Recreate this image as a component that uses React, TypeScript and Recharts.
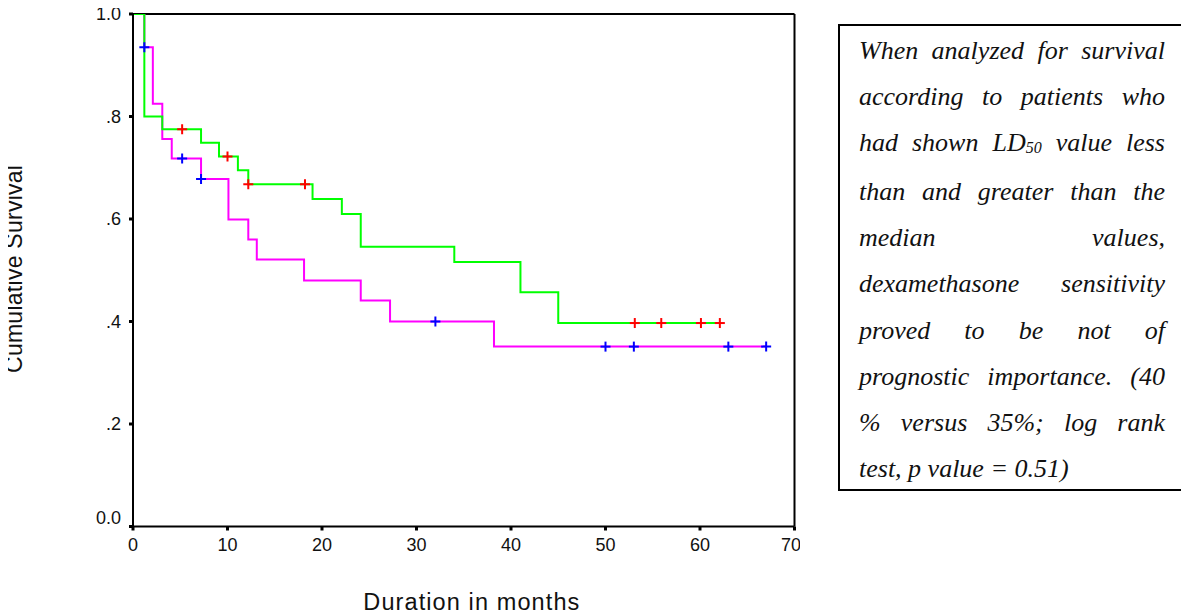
import React from "react";
import { ComposedChart, Line, XAxis, YAxis, ReferenceLine } from "recharts";

// survival steps (months, cumulative survival)
const greenTimes = [0, 1.2, 3.1, 7.2, 9.1, 11.1, 12.2, 19.0, 22.1, 24.1, 34.0, 41.0, 45.0, 62.1];
const greenSurv = [1.0, 0.8, 0.775, 0.749, 0.722, 0.695, 0.668, 0.639, 0.61, 0.546, 0.516, 0.457, 0.397, 0.397];

const magentaTimes = [0, 1.2, 2.1, 3.1, 4.1, 7.2, 10.1, 12.2, 13.1, 18.1, 24.1, 27.2, 38.2, 67.0];
const magentaSurv = [1.0, 0.935, 0.825, 0.756, 0.718, 0.678, 0.599, 0.56, 0.521, 0.48, 0.441, 0.4, 0.351, 0.351];

// censored cases
const redTimes = [5.2, 10.0, 12.2, 18.2, 53.1, 55.9, 60.1, 62.1];
const redSurv = [0.775, 0.722, 0.668, 0.668, 0.397, 0.397, 0.397, 0.397];

const blueTimes = [1.2, 5.2, 7.2, 32.0, 50.0, 53.0, 63.0, 67.0];
const blueSurv = [0.935, 0.718, 0.678, 0.4, 0.351, 0.351, 0.351, 0.351];

const xTicks = [0, 10, 20, 30, 40, 50, 60, 70];
const yTicks = [0, 0.2, 0.4, 0.6, 0.8, 1.0];
const yTickLabels = ["0.0", ".2", ".4", ".6", ".8", "1.0"];

const noteLines = [
  "When analyzed for survival",
  "according to patients who",
  "had shown LD50 value less",
  "than and greater than the",
  "median values,",
  "dexamethasone sensitivity",
  "proved to be not of",
  "prognostic importance. (40",
  "% versus 35%; log rank",
  "test, p value = 0.51)",
];

const zip = (ts: number[], ss: number[]) => ts.map((t, i) => ({ t, s: ss[i] }));

const greenData = zip(greenTimes, greenSurv);
const magentaData = zip(magentaTimes, magentaSurv);
const redData = zip(redTimes, redSurv);
const blueData = zip(blueTimes, blueSurv);

const sans = "'Liberation Sans', Arial, sans-serif";
const serif = "'Liberation Serif', 'Times New Roman', serif";

function crossDot(color: string) {
  return (props: any) => {
    const { cx, cy, index } = props;
    if (cx == null || cy == null) return <g key={index} />;
    return (
      <g key={index}>
        <line x1={cx - 5} x2={cx + 5} y1={cy} y2={cy} stroke={color} strokeWidth={2} />
        <line x1={cx} x2={cx} y1={cy - 5} y2={cy + 5} stroke={color} strokeWidth={2} />
      </g>
    );
  };
}

function YTick(props: any) {
  const { x, y, payload } = props;
  const idx = yTicks.indexOf(payload.value);
  const label = idx >= 0 ? yTickLabels[idx] : String(payload.value);
  return (
    <text
      x={x}
      y={y + (payload.value === 0 ? -9 : 0)}
      dy="0.355em"
      textAnchor="end"
      fill="#111"
      fontSize={18}
      fontFamily={sans}
    >
      {label}
    </text>
  );
}

function NoteLine({ text, last }: { text: string; last: boolean }) {
  const parts = text.split("LD50");
  return (
    <div style={{ textAlign: "justify", textAlignLast: last ? "left" : "justify", whiteSpace: "nowrap" }}>
      {parts.length > 1 ? (
        <>
          {parts[0]}LD
          <span style={{ fontSize: 16, position: "relative", top: 2 }}>50</span>
          {parts[1]}
        </>
      ) : (
        text
      )}
    </div>
  );
}

export default function App() {
  return (
    <div style={{ position: "relative", width: 1189, height: 615 }}>
      <div style={{ position: "absolute", left: -8, top: -8 }}>
        <div style={{ position: "absolute", left: 0, top: 0 }}>
          <ComposedChart
            width={800}
            height={615}
            margin={{ top: 14, right: 5.5, bottom: 0, left: 0 }}
          >
            <XAxis
              dataKey="t"
              type="number"
              domain={[0, 70]}
              ticks={xTicks}
              allowDataOverflow
              height={88.5}
              axisLine={{ stroke: "#000", strokeWidth: 2 }}
              tickLine={{ stroke: "#000", strokeWidth: 3 }}
              tickSize={4}
              tickMargin={8}
              tick={{ fill: "#111", fontSize: 18, fontFamily: sans }}
            />
            <YAxis
              dataKey="s"
              type="number"
              domain={[0, 1]}
              ticks={yTicks}
              allowDataOverflow
              width={133}
              axisLine={{ stroke: "#000", strokeWidth: 2 }}
              tickLine={{ stroke: "#000", strokeWidth: 3 }}
              tickSize={4}
              tickMargin={8}
              tick={<YTick />}
            />
            <ReferenceLine y={1} stroke="#000" strokeWidth={2} />
            <ReferenceLine x={70} stroke="#000" strokeWidth={2} />
            <Line
              data={magentaData}
              dataKey="s"
              type="stepAfter"
              stroke="#ff00ff"
              strokeWidth={2}
              dot={false}
              activeDot={false}
              isAnimationActive={false}
            />
            <Line
              data={greenData}
              dataKey="s"
              type="stepAfter"
              stroke="#00ff00"
              strokeWidth={2}
              dot={false}
              activeDot={false}
              isAnimationActive={false}
            />
            <Line
              data={redData}
              dataKey="s"
              stroke="none"
              dot={crossDot("#ff0000")}
              activeDot={false}
              isAnimationActive={false}
            />
            <Line
              data={blueData}
              dataKey="s"
              stroke="none"
              dot={crossDot("#0000ff")}
              activeDot={false}
              isAnimationActive={false}
            />
          </ComposedChart>
        </div>
        <svg
          width={800}
          height={615}
          style={{ position: "absolute", left: 0, top: 0, pointerEvents: "none" }}
        >
          <text
            transform="rotate(-90)"
            x={-373}
            y={22}
            fontSize={23}
            fontFamily={sans}
            fill="#111"
            textLength={208}
            lengthAdjust="spacing"
          >
            Cumulative Survival
          </text>
          <text
            x={363.3}
            y={609.5}
            fontSize={23.5}
            fontFamily={sans}
            fill="#111"
            textLength={216}
            lengthAdjust="spacing"
          >
            Duration in months
          </text>
        </svg>
        <div
          style={{
            position: "absolute",
            left: 838,
            top: 24,
            width: 348,
            height: 467,
            boxSizing: "border-box",
            border: "2px solid #000",
            padding: "2px 19px 0 19px",
            fontFamily: serif,
            fontStyle: "italic",
            fontSize: 26,
            lineHeight: "46.1px",
            color: "#111",
            background: "#fff",
          }}
        >
          {noteLines.map((line, i) => (
            <NoteLine key={i} text={line} last={i === noteLines.length - 1} />
          ))}
        </div>
      </div>
    </div>
  );
}
